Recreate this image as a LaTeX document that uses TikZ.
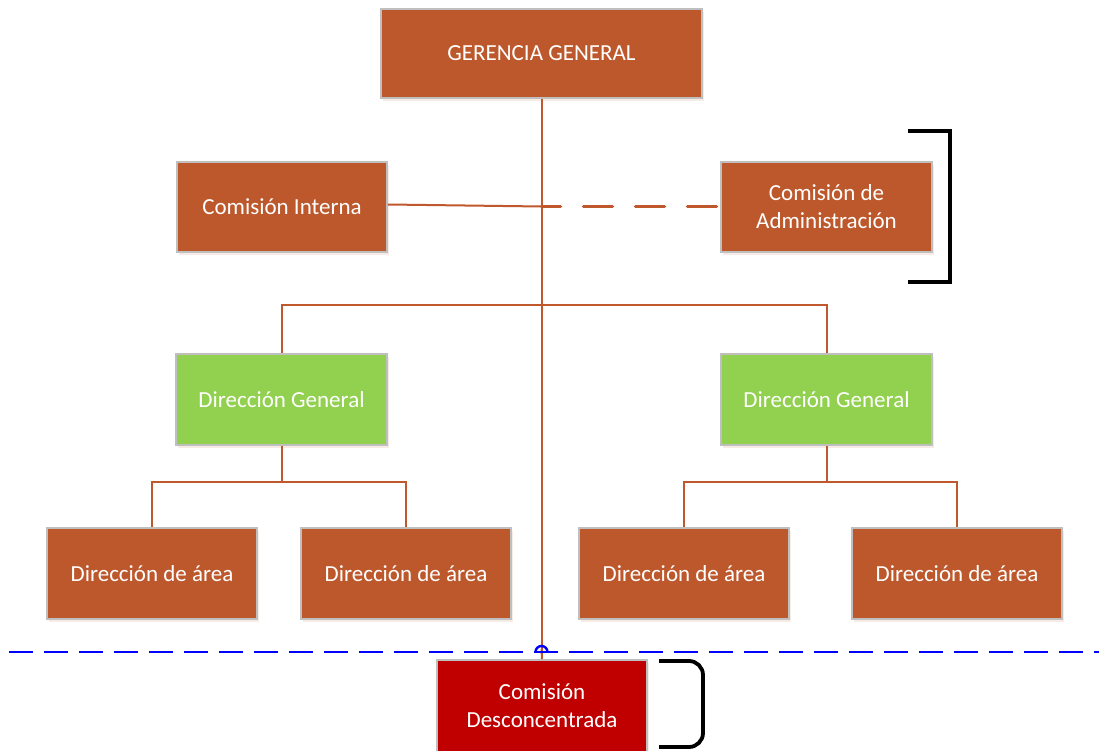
\documentclass[tikz,border=0pt]{standalone}
\usepackage{fontspec}
\setmainfont{Carlito}
\usetikzlibrary{shadows}
\definecolor{boxorange}{HTML}{BD582C}
\definecolor{boxgreen}{HTML}{92D050}
\definecolor{boxred}{HTML}{C00000}
\definecolor{linkorange}{HTML}{C0582D}
\definecolor{boxedge}{HTML}{BFBFBF}
\tikzset{
  unit/.style={draw=boxedge, line width=1.8pt, text=white, align=center,
    font=\fontsize{23}{28}\selectfont, inner sep=0pt,
    drop shadow={shadow xshift=2pt, shadow yshift=-3pt, opacity=0.12, fill=boxorange}},
  orangebox/.style={unit, fill=boxorange},
  greenbox/.style={unit, fill=boxgreen},
  redbox/.style={unit, fill=boxred},
  link/.style={draw=linkorange, line width=2pt},
  dottedlink/.style={draw=linkorange, line width=3.5pt, line cap=round,
    dash pattern=on 29pt off 23pt, dash phase=10pt},
  brace/.style={draw=black, line width=3.8pt},
  boundary/.style={draw=blue, line width=2.6pt, dash pattern=on 24pt off 11pt}
}
\begin{document}
\begin{tikzpicture}[x=1pt, y=-1pt]
\useasboundingbox (0,0) rectangle (1099,751);

% boxes
\node[orangebox, minimum width=321pt, minimum height=89pt] (gg) at (541.5,53.5) {GERENCIA GENERAL};
\node[orangebox, minimum width=210pt, minimum height=90pt] (ci) at (282,207) {Comisión Interna};
\node[orangebox, minimum width=211pt, minimum height=90pt] (ca) at (826.5,207) {Comisión de\\Administración};
\node[greenbox, minimum width=211pt, minimum height=91pt] (dg1) at (281.5,399.5) {Dirección General};
\node[greenbox, minimum width=211pt, minimum height=91pt] (dg2) at (826.5,399.5) {Dirección General};
\node[orangebox, minimum width=210pt, minimum height=91pt] (da1) at (152,573.5) {Dirección de área};
\node[orangebox, minimum width=210pt, minimum height=91pt] (da2) at (406,573.5) {Dirección de área};
\node[orangebox, minimum width=210pt, minimum height=91pt] (da3) at (684,573.5) {Dirección de área};
\node[orangebox, minimum width=210pt, minimum height=91pt] (da4) at (957,573.5) {Dirección de área};
\node[redbox, minimum width=210pt, minimum height=92pt] (cd) at (542,706) {Comisión\\Desconcentrada};

% helper points
\coordinate (trunk) at (541.5,206.5);
\coordinate (hop) at (541.5,652);
\coordinate (split) at (541.5,305);
\coordinate (b1) at (281.5,482);
\coordinate (b2) at (826.5,482);

% main trunk with a hop over the boundary line
\draw[link] (gg.south) -- ([yshift=-6pt]hop);
\draw[link] ([yshift=3pt]hop) -- (cd.north);

% advisory commissions
\draw[link] ([yshift=2.5pt]ci.east) -- (trunk);
\draw[dottedlink] (trunk) -- ([yshift=0.5pt]ca.west);

% general directorates
\draw[link] (dg1.north) |- (split) -| (dg2.north);
\draw[link] (dg1.south) -- (b1);
\draw[link] (da1.north) |- (b1) -| (da2.north);
\draw[link] (dg2.south) -- (b2);
\draw[link] (da3.north) |- (b2) -| (da4.north);

% boundary line and its hop
\draw[boundary] (9,652) -- (1099,652);
\draw[blue, line width=2.4pt] ([xshift=-6pt]hop) arc[start angle=180, end angle=0, radius=6pt];

% brackets
\coordinate (br1t) at (908,131);
\coordinate (br1b) at (908,282);
\draw[brace] (br1t) -- ++(42,0) -- ++(0,151) -- (br1b);
\coordinate (br2t) at (659,661);
\coordinate (br2b) at (659,747);
\draw[brace, rounded corners=14pt] (br2t) -- ++(44,0) -- ++(0,86) -- (br2b);
\end{tikzpicture}
\end{document}
